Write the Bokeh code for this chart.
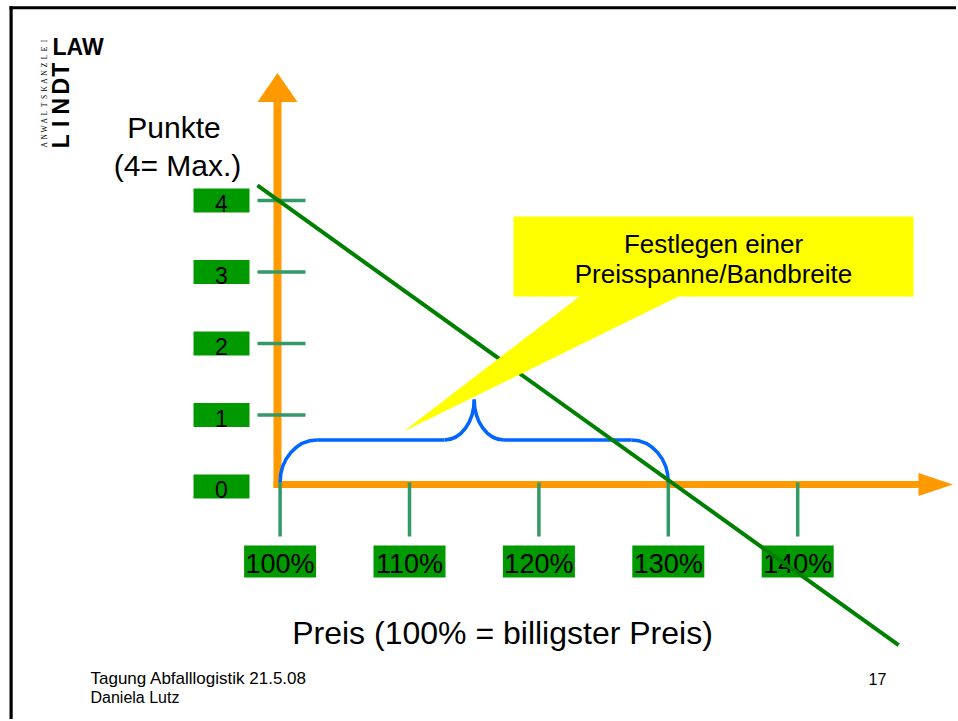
import numpy as np
from bokeh.plotting import figure
from bokeh.models import Range1d
from bokeh.core.properties import value
from bokeh.embed import file_html
from bokeh.resources import INLINE

# ---------------- data ----------------
punkte_ticks = [0, 1, 2, 3, 4]
punkte_labels = ["0", "1", "2", "3", "4"]
preis_ticks = [100, 110, 120, 130, 140]
preis_labels = ["100%", "110%", "120%", "130%", "140%"]
bewertung_x = [98.25, 147.8]     # Preis in %
bewertung_y = [4.21, -2.22]      # Punkte
spanne_von = 100                 # Preisspanne / Bandbreite
spanne_bis = 130

# ---------------- layout helpers (page pixels -> data) ----------------
OFF = 0
W, H = 956, 719
PX, X100 = 12.94, 279.6
PY, Y0 = 71.5, 486.0
K = 0.33  # baseline correction (fraction of font size)


def X(px):
    return 100 + (px - X100) / PX


def Y(py):
    return (Y0 - py) / PY


def dx(n):
    return n / PX


def dy(n):
    return n / PY


def TB(py, fs):
    """data y for a text whose alphabetic baseline should sit at page pixel py"""
    return Y(py - K * fs)


FONT = value("Liberation Sans")
ORANGE = "#FF9900"
BOXGREEN = "#009900"
TICKGREEN = "#339966"

p = figure(width=W, height=H,
           x_range=Range1d(X(OFF), X(OFF + W)), y_range=Range1d(Y(OFF + H), Y(OFF)),
           output_backend="svg", toolbar_location=None, min_border=0,
           x_axis_type=None, y_axis_type=None, outline_line_color=None,
           background_fill_color="white", border_fill_color="white")
p.grid.visible = False
p.title.visible = False

# slide border (top + left) as filled bands
p.quad(left=[X(9), X(9)], right=[X(W), X(12.2)], top=[Y(5.8), Y(5.8)], bottom=[Y(8.8), Y(H)],
       fill_color="black", line_color=None)

# y label boxes
p.quad(left=X(193), right=X(249),
       top=[t + dy(12) for t in punkte_ticks], bottom=[t - dy(12) for t in punkte_ticks],
       fill_color=BOXGREEN, line_color=None)
p.text(x=[X(221)] * len(punkte_ticks), y=[t - dy(11) + dy(K * 23) for t in punkte_ticks], text=punkte_labels,
       text_font=FONT, text_font_size="23px", text_align="center", text_baseline="alphabetic",
       text_color="black")

# x label boxes
p.quad(left=[t - dx(36) for t in preis_ticks], right=[t + dx(36) for t in preis_ticks],
       top=Y(545), bottom=Y(577), fill_color=BOXGREEN, line_color=None)
p.text(x=preis_ticks, y=[TB(572, 27)] * len(preis_ticks), text=preis_labels,
       text_font=FONT, text_font_size="27px", text_align="center", text_baseline="alphabetic",
       text_color="black")

# orange axes with arrow heads
p.segment(x0=[X(277)], y0=[Y(487.5)], x1=[X(277)], y1=[Y(100)], line_color=ORANGE, line_width=8)
p.patch(x=[X(257), X(297), X(277)], y=[Y(101.5), Y(101.5), Y(72.5)], fill_color=ORANGE, line_color=None)
p.segment(x0=[X(273)], y0=[Y(484)], x1=[X(919)], y1=[Y(484)], line_color=ORANGE, line_width=7)
p.patch(x=[X(918), X(918), X(952.5)], y=[Y(472.5), Y(495.5), Y(484)], fill_color=ORANGE, line_color=None)

# tick marks
yt = punkte_ticks[1:]
p.segment(x0=[X(257)] * len(yt), y0=yt, x1=[X(305)] * len(yt), y1=yt,
          line_color=TICKGREEN, line_width=3.5)
p.segment(x0=preis_ticks, y0=[Y(482)] * len(preis_ticks), x1=preis_ticks, y1=[Y(536)] * len(preis_ticks),
          line_color=TICKGREEN, line_width=3.5)

# curly brace over the price range
lo, hi = spanne_von, spanne_bis
mid = (lo + hi) / 2
Yb, Yh, Yt = Y(482), Y(439.5), Y(399)
r = dx(37)
c = 0.552
rc = dx(29.7)
BLUE = "#0066FF"
bx0 = [lo, mid - rc, mid, hi]
by0 = [Yb, Yh, Yt, Yb]
bx1 = [lo + r, mid, mid + rc, hi - r]
by1 = [Yh, Yt, Yh, Yh]
cx0 = [lo, mid - rc + c * rc, mid, hi]
cy0 = [Yb + c * (Yh - Yb), Yh, Yt - c * (Yt - Yh), Yb + c * (Yh - Yb)]
cx1 = [lo + r - c * r, mid, mid + rc - c * rc, hi - r + c * r]
cy1 = [Yh, Yt - c * (Yt - Yh), Yh, Yh]
p.bezier(x0=bx0, y0=by0, x1=bx1, y1=by1, cx0=cx0, cy0=cy0, cx1=cx1, cy1=cy1,
         line_color=BLUE, line_width=3.5)
p.segment(x0=[lo + r, mid + rc], y0=[Yh, Yh], x1=[mid - rc, hi - r], y1=[Yh, Yh],
          line_color=BLUE, line_width=3.5)

# scoring line
p.line(bewertung_x, bewertung_y, line_color="#008000", line_width=4)

# callout
p.patch(x=[X(513), X(913), X(913), X(678), X(403), X(579), X(513)],
        y=[Y(216), Y(216), Y(296), Y(296), Y(431), Y(296), Y(296)],
        fill_color="#FFFF00", line_color=None)
p.text(x=[X(713), X(713)], y=[TB(251.7, 26), TB(281.7, 26)],
       text=["Festlegen einer", "Preisspanne/Bandbreite"],
       text_font=FONT, text_font_size="26px", text_align="center", text_baseline="alphabetic",
       text_color="black")

# axis titles
p.text(x=[X(173.5), X(177)], y=[TB(137, 30), TB(175, 30)], text=["Punkte", "(4= Max.)"],
       text_font=FONT, text_font_size="30px", text_align="center", text_baseline="alphabetic",
       text_color="black")
p.text(x=[X(502)], y=[TB(643.5, 32)], text=["Preis (100% = billigster Preis)"],
       text_font=FONT, text_font_size="32px", text_align="center", text_baseline="alphabetic",
       text_color="black")

# footer
p.text(x=[X(90)], y=[TB(683.5, 17)], text=["Tagung Abfalllogistik 21.5.08"],
       text_font=FONT, text_font_size="17px", text_align="left", text_baseline="alphabetic",
       text_color="black")
p.text(x=[X(90)], y=[TB(702, 16)], text=["Daniela Lutz"],
       text_font=FONT, text_font_size="16px", text_align="left", text_baseline="alphabetic",
       text_color="black")
p.text(x=[X(868)], y=[TB(683.5, 16)], text=["17"],
       text_font=FONT, text_font_size="16px", text_align="left", text_baseline="alphabetic",
       text_color="black")

# logo
p.text(x=[X(52)], y=[TB(54.5, 23)], text=["LAW"], text_font=FONT, text_font_size="23px",
       text_font_style="bold", text_align="left", text_baseline="alphabetic", text_color="black")
lindt = list("LINDT")
lindt_y = [140.8, 123.3, 105.8, 85.8, 69.2]
p.text(x=[X(68.5 - K * 23)] * 5, y=[Y(v) for v in lindt_y], text=lindt, angle=np.pi / 2,
       text_font=FONT, text_font_size="23px", text_font_style="bold",
       text_align="center", text_baseline="alphabetic", text_color="black")
kanz = list("ANWALTSKANZLEI")
step = (148.3 - 36.5) / len(kanz)
p.text(x=[X(46 - K * 7.5)] * len(kanz), y=[Y(148.3 - (i + 0.5) * step) for i in range(len(kanz))], text=kanz,
       angle=np.pi / 2, text_font=value("Liberation Serif"), text_font_size="7.5px",
       text_align="center", text_baseline="alphabetic", text_color="black")

open("out.html", "w").write(file_html(p, INLINE))
